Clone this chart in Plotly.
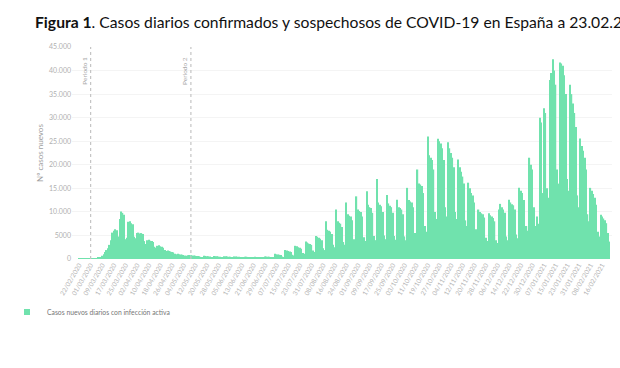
import pandas as pd
import plotly.graph_objects as go

# ---- data (daily new cases) ----
start_date = "2020-02-22"
cases_2020_02 = [3, 2, 5, 6, 10, 12, 18, 15]
cases_2020_03 = [20, 40, 60, 90, 150, 250, 350, 450, 700, 1000, 1500, 1900, 2300, 3000, 4000,
                 5600, 6000, 6300, 6100, 4800, 8500, 10100, 9800, 9400, 4200, 4500, 7900, 8000, 7600,
                 7400, 4700]
cases_2020_04 = [4400, 5500, 5600, 5400, 5500, 5300, 3800, 3200, 4000, 4100, 3900, 3800,
                 3600, 2600, 2400, 2800, 2900, 2700, 2600, 2400, 1900, 1700, 1800, 1700, 1600, 1500,
                 1400, 1100, 1000, 1100]
cases_2020_05 = [1000, 950, 900, 850, 700, 700, 800, 850, 800, 750, 750, 700, 650, 620, 580, 400, 350,
                 700, 650, 600, 580, 520, 380, 330, 650, 600, 560, 520, 480, 350, 300]
cases_2020_06 = [600, 560, 520, 500, 460, 330, 280, 550, 520, 480, 460, 420, 300, 260,
                 500, 470, 440, 420, 390, 270, 230, 480, 450, 430, 420, 400, 280, 250, 550, 520]
cases_2020_07 = [500, 480, 450, 320, 280, 1100, 1000, 950, 900, 850, 520, 450,
                 1900, 1800, 1700, 1600, 1500, 900, 750, 2800, 2700, 2500, 2400, 2200, 1300, 1100,
                 3700, 3500, 3300, 3200, 3000]
cases_2020_08 = [1800, 1500, 4900, 4700, 4500, 4300, 4000, 2300, 1900, 8000, 6200, 6000, 5800, 5300, 3000, 2500,
                 10500, 8000, 7700, 7500, 6800, 3600, 3000, 12000, 9500, 9200, 9000, 8200, 4200, 3500, 13300]
cases_2020_09 = [10500, 10200, 10000, 9000, 4600, 3800, 14400, 11500, 11000, 10800, 9800, 4900, 4000,
                 17000, 12000, 11500, 11200, 10000, 5000, 4200, 13600, 11800, 11300, 11000, 9800, 4900, 4100,
                 12600, 11000, 10800]
cases_2020_10 = [10500, 9500, 4800, 4000, 15100, 12500, 12200, 12000, 11000, 5500, 4600,
                 19000, 16000, 15800, 15500, 14000, 7000, 5800, 26000, 22000, 21500, 21000, 19000, 10000, 8500,
                 25500, 25000, 24500, 23500, 21000, 11000]
cases_2020_11 = [9000, 24800, 23500, 22500, 21500, 19500, 10000, 8500, 21100, 19500, 18500, 17500, 16000, 8200, 7000,
                 16200, 15000, 14000, 13500, 12000, 6300, 5300, 10500, 10000, 9700, 9500, 8800, 4500, 3800, 9700]
cases_2020_12 = [9300, 9000, 8700, 8000, 4000, 3400, 10500, 11700, 11000, 10500, 9800, 4800, 4000,
                 12600, 12000, 11600, 11400, 10500, 5200, 4400, 15100, 14500, 14000, 12500, 6500, 7000, 6000,
                 21500, 20000, 19000, 11000]
cases_2021_01 = [7000, 9000, 7500, 30000, 29000, 14000, 32000, 31000, 15000, 13000,
                 38000, 39500, 42400, 40000, 37000, 19000, 16000, 41700, 41500, 41000, 39000, 35000, 17000, 14500,
                 37000, 35000, 33000, 31000, 28000, 13500, 11000]
cases_2021_02 = [25600, 24000, 23000, 21500, 19000, 9500, 8000, 15100, 14500, 13800, 13000, 11500, 5800, 4800,
                 9400, 9000, 8600, 8200, 7600, 5500, 3700]

x_tick_labels = ["22/02/2020", "01/03/2020", "09/03/2020", "17/03/2020", "25/03/2020", "02/04/2020",
                 "10/04/2020", "18/04/2020", "26/04/2020", "04/05/2020", "12/05/2020", "20/05/2020",
                 "28/05/2020", "05/06/2020", "13/06/2020", "21/06/2020", "29/06/2020", "07/07/2020",
                 "15/07/2020", "23/07/2020", "31/07/2020", "08/08/2020", "16/08/2020", "24/08/2020",
                 "01/09/2020", "09/09/2020", "17/09/2020", "25/09/2020", "03/10/2020", "11/10/2020",
                 "19/10/2020", "27/10/2020", "04/11/2020", "12/11/2020", "20/11/2020", "28/11/2020",
                 "06/12/2020", "14/12/2020", "22/12/2020", "30/12/2020", "07/01/2021", "15/01/2021",
                 "23/01/2021", "31/01/2021", "08/02/2021", "16/02/2021"]
y_tick_values = [0, 5000, 10000, 15000, 20000, 25000, 30000, 35000, 40000, 45000]
y_tick_labels = ["0", "5000", "10.000", "15.000", "20.000", "25.000", "30.000", "35.000", "40.000", "45.000"]
period_dates = ["2020-03-01", "2020-05-09"]
period_labels = ["Periodo 1", "Periodo 2"]
series_name = "Casos nuevos diarios con infección activa"
title_text = "<b>Figura 1</b>. Casos diarios confirmados y sospechosos de COVID-19 en España a 23.02.2021"

cases = (cases_2020_02 + cases_2020_03 + cases_2020_04 + cases_2020_05 + cases_2020_06 +
         cases_2020_07 + cases_2020_08 + cases_2020_09 + cases_2020_10 + cases_2020_11 +
         cases_2020_12 + cases_2021_01 + cases_2021_02)
dates = pd.date_range(start_date, periods=len(cases), freq="D")
tick_dates = [pd.to_datetime(t, format="%d/%m/%Y") for t in x_tick_labels]

GREEN = "#70e2ad"
GREY = "#a9a9a9"

PLOT_L, PLOT_R = 72, 612

fig = go.Figure()
fig.add_trace(go.Bar(x=dates, y=cases, name=series_name, marker_color=GREEN,
                     marker_line_width=0, showlegend=False))
# legend entry with a small square symbol, like the reference
fig.add_trace(go.Scatter(x=[None], y=[None], mode="markers", name=series_name,
                         marker=dict(symbol="square", size=6, color=GREEN), showlegend=True))

for d, lab in zip(period_dates, period_labels):
    fig.add_shape(type="line", x0=d, x1=d, xref="x", y0=0, y1=1, yref="paper",
                  line=dict(color="#c4c4c4", width=1.2, dash="dot"))
    fig.add_annotation(x=d, y=40000, xref="x", yref="y", text=lab, textangle=-90,
                       showarrow=False, xanchor="right", yanchor="middle", xshift=-1,
                       font=dict(size=6.5, color=GREY, family="Lato"))

fig.update_layout(
    width=620, height=368,
    margin=dict(l=PLOT_L, r=620 - PLOT_R, t=47, b=109, autoexpand=False),
    paper_bgcolor="white", plot_bgcolor="white",
    font=dict(family="Lato", color=GREY),
    title=dict(text=title_text, x=35 / 620, xanchor="left", xref="container",
               y=1 - 23 / 368, yanchor="middle", yref="container",
               font=dict(size=15.7, color="#111111", family="Lato")),
    bargap=0.12,
    showlegend=True,
    legend=dict(orientation="h", xref="container", x=7 / 620, xanchor="left",
                yref="container", y=1 - 312 / 368, yanchor="middle",
                font=dict(size=6.8, color="#777777"), itemwidth=30,
                bgcolor="rgba(0,0,0,0)"),
)
fig.update_xaxes(range=[pd.Timestamp(start_date) - pd.Timedelta(days=4.82),
                        pd.Timestamp(start_date) + pd.Timedelta(days=366.8)],
                 tickvals=tick_dates, ticktext=x_tick_labels, tickangle=-60,
                 tickfont=dict(size=6.5, color="#b5b5b5"), showgrid=False,
                 showline=False, zeroline=False, ticks="", automargin=False)
fig.update_yaxes(range=[0, 45000], tickvals=y_tick_values, ticktext=y_tick_labels,
                 tickfont=dict(size=7, color="#b0b0b0"), showgrid=True, gridcolor="#f4f4f4",
                 zeroline=False, showline=False, automargin=False,
                 title=dict(text="Nº casos nuevos", font=dict(size=8, color="#a0a0a0"), standoff=4))

fig.write_html("out.html", config={"displayModeBar": False},
               post_script="document.body.style.margin='0px';")
